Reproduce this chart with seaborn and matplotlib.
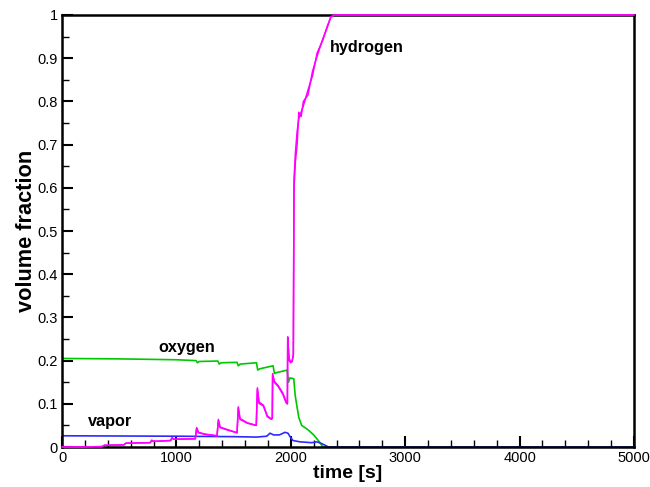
import numpy as np
import pandas as pd
import matplotlib
matplotlib.use("Agg")
import matplotlib.pyplot as plt
import seaborn as sns
from matplotlib.ticker import MultipleLocator

# ---------------- data ----------------
h_t = [0, 160, 350, 370, 540, 560, 770, 785, 800, 950, 962, 975, 1165, 1177, 1192, 1250, 1355,
       1367, 1382, 1450, 1530, 1541, 1556, 1620, 1698, 1708, 1722, 1760, 1795, 1830, 1838, 1841,
       1856, 1890, 1930, 1960, 1970, 1973, 1985, 2000, 2012, 2022, 2028, 2040, 2055, 2070, 2090,
       2110, 2150, 2190, 2230, 2280, 2320, 2350, 2380, 5000]
h_a = [0, 0, 0.001, 0.004, 0.005, 0.009, 0.010, 0.016, 0.013, 0.015, 0.022, 0.018, 0.019,
       0.045, 0.034, 0.030, 0.026, 0.064, 0.046, 0.040, 0.033, 0.093, 0.066, 0.056, 0.050,
       0.137, 0.104, 0.097, 0.072, 0.065, 0.066, 0.170, 0.152, 0.142, 0.125, 0.104, 0.100,
       0.255, 0.205, 0.197, 0.200, 0.215, 0.62, 0.68, 0.73, 0.76, 0.775, 0.790, 0.826, 0.860,
       0.912, 0.942, 0.975, 0.995, 1.0, 1.0]
h_b = [0, 0, 0.001, 0.004, 0.005, 0.009, 0.010, 0.015, 0.013, 0.015, 0.021, 0.018, 0.019,
       0.043, 0.033, 0.029, 0.026, 0.061, 0.045, 0.039, 0.033, 0.090, 0.064, 0.055, 0.050,
       0.133, 0.101, 0.095, 0.070, 0.064, 0.066, 0.166, 0.150, 0.140, 0.122, 0.102, 0.100,
       0.248, 0.200, 0.195, 0.198, 0.212, 0.60, 0.66, 0.70, 0.775, 0.765, 0.800, 0.815, 0.870,
       0.905, 0.945, 0.972, 0.996, 1.0, 1.0]

o_t = [0, 500, 1000, 1172, 1184, 1200, 1362, 1374, 1390, 1530, 1541, 1558, 1700, 1711, 1728,
       1845, 1857, 1872, 1968, 1980, 1992, 2026, 2038, 2050, 2070, 2095, 2150, 2200, 2250, 2280, 5000]
o_v = [0.205, 0.204, 0.202, 0.200, 0.195, 0.198, 0.199, 0.192, 0.195, 0.196, 0.188, 0.192,
       0.195, 0.178, 0.181, 0.188, 0.170, 0.172, 0.178, 0.150, 0.160, 0.158, 0.12, 0.100,
       0.068, 0.050, 0.040, 0.028, 0.012, 0.0, 0.0]

v_t = [0, 1000, 1500, 1700, 1790, 1818, 1850, 1900, 1949, 1975, 1993, 2019, 2080, 2183, 2226,
       2270, 2330, 5000]
v_v = [0.026, 0.025, 0.024, 0.023, 0.025, 0.032, 0.028, 0.028, 0.034, 0.032, 0.024, 0.015,
       0.012, 0.010, 0.012, 0.008, 0.0, 0.0]

x_ticks = [0, 1000, 2000, 3000, 4000, 5000]
x_labels = ["0", "1000", "2000", "3000", "4000", "5000"]
y_ticks = [0, 0.1, 0.2, 0.3, 0.4, 0.5, 0.6, 0.7, 0.8, 0.9, 1.0]
y_labels = ["0", "0.1", "0.2", "0.3", "0.4", "0.5", "0.6", "0.7", "0.8", "0.9", "1"]

# ---------------- plot ----------------
sns.set_style("ticks")
plt.rcParams["font.family"] = ["Liberation Sans", "DejaVu Sans"]
plt.rcParams.update({"text.color": "black", "axes.labelcolor": "black",
                     "xtick.color": "black", "ytick.color": "black",
                     "axes.edgecolor": "black"})

fig = plt.figure(figsize=(6.5, 4.87), dpi=100)
ax = fig.add_axes([0.0954, 0.0821, 0.8800, 0.8871])

low_kw = dict(ax=ax, estimator=None, sort=False, zorder=2)
top_kw = dict(ax=ax, estimator=None, sort=False, zorder=3, clip_on=False)
sns.lineplot(x=o_t, y=o_v, color="#00c800", lw=1.2, **low_kw)
sns.lineplot(x=v_t, y=v_v, color="#2b2bff", lw=1.2, **low_kw)
sns.lineplot(x=h_t, y=h_b, color="#ff00ff", lw=1.1, **top_kw)
sns.lineplot(x=h_t, y=h_a, color="#ff00ff", lw=1.1, **top_kw)

ax.set_xlim(0, 5000)
ax.set_ylim(0, 1)
ax.set_xticks(x_ticks)
ax.set_xticklabels(x_labels)
ax.set_yticks(y_ticks)
ax.set_yticklabels(y_labels)
ax.xaxis.set_minor_locator(MultipleLocator(200))
ax.yaxis.set_minor_locator(MultipleLocator(0.05))
ax.tick_params(which="major", direction="in", length=8, width=1.5, labelsize=10.5, pad=3,
               top=False, right=False)
ax.tick_params(which="minor", direction="in", length=5, width=1.0, top=False, right=False)
for s in ax.spines.values():
    s.set_visible(True)
    s.set_linewidth(1.8)
    s.set_zorder(2.5)

ax.set_xlabel("time [s]", fontsize=14, fontweight="bold", labelpad=0)
ax.set_ylabel("volume fraction", fontsize=15.7, fontweight="bold", labelpad=0)

ax.text(2343, 0.924, "hydrogen", fontsize=11.7, fontweight="bold", va="center", ha="left")
ax.text(839, 0.231, "oxygen", fontsize=11.7, fontweight="bold", va="center", ha="left")
ax.text(227, 0.060, "vapor", fontsize=11.7, fontweight="bold", va="center", ha="left")

fig.savefig("out.png", dpi=100)
